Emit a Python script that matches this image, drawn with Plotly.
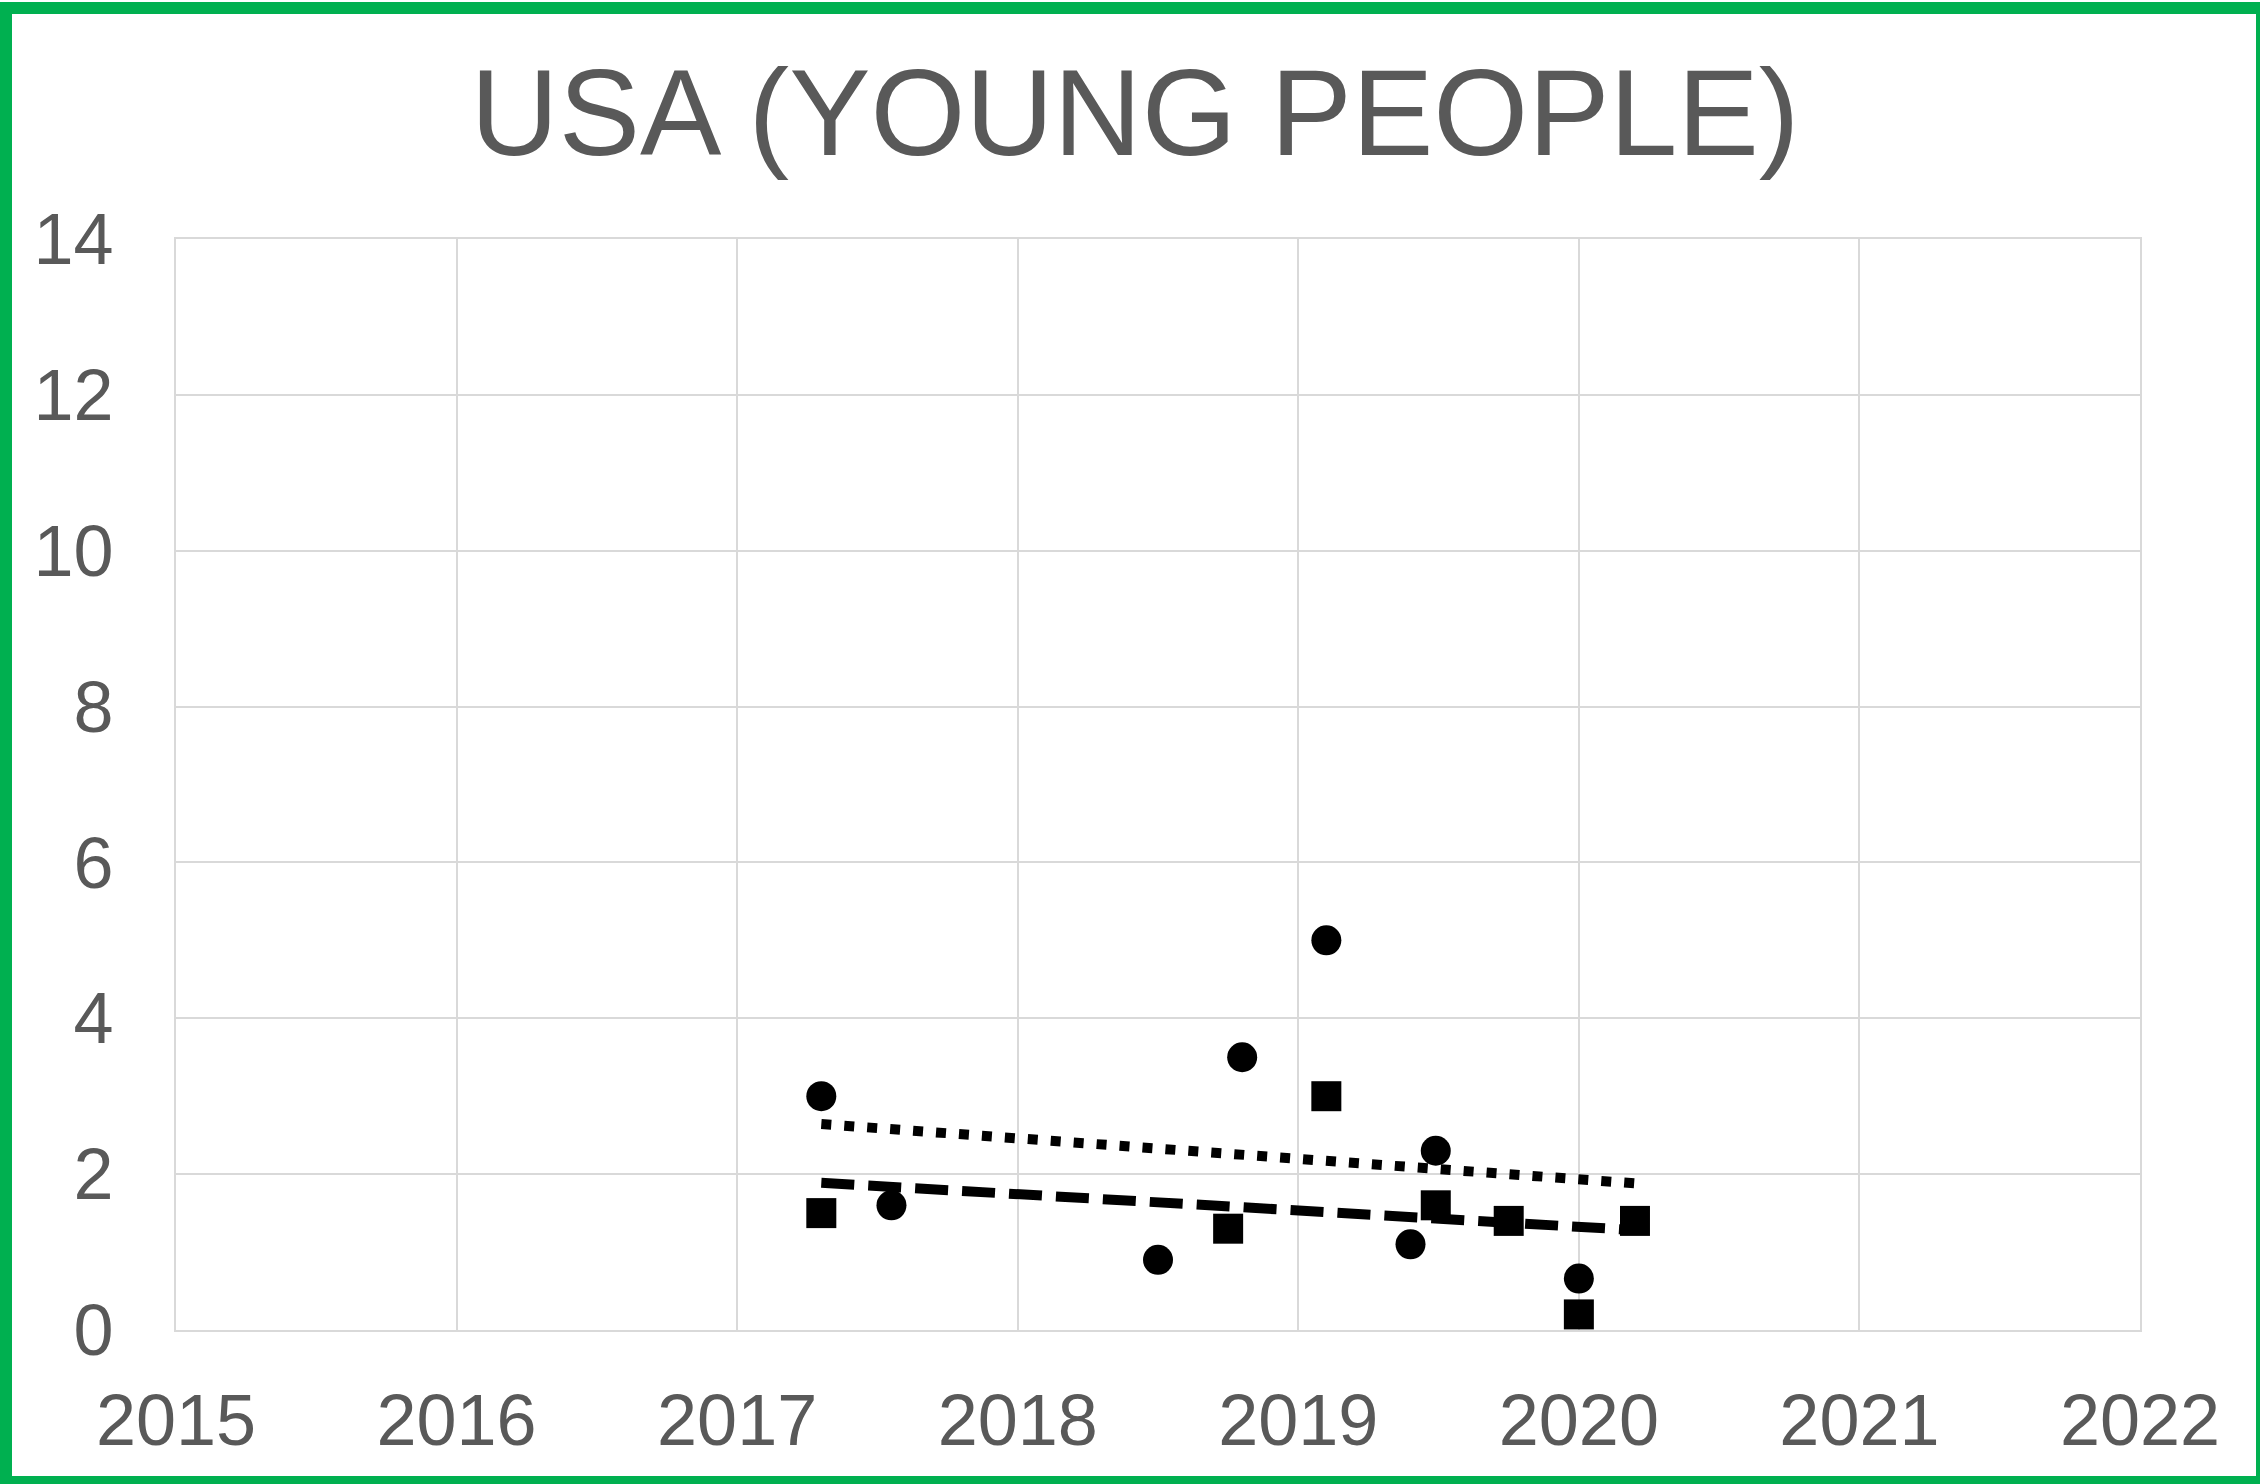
import numpy as np
import plotly.graph_objects as go

# circle series (dotted trend)
circle_x = [2017.30, 2017.55, 2018.50, 2018.80, 2019.10, 2019.49, 2019.40, 2020.00]
circle_y = [3.0, 1.6, 0.9, 3.5, 5.0, 2.3, 1.1, 0.66]

# square series (dashed trend)
square_x = [2017.30, 2018.75, 2019.10, 2019.49, 2019.75, 2020.00, 2020.20]
square_y = [1.5, 1.3, 3.0, 1.6, 1.4, 0.2, 1.4]

year_ticks = [2015, 2016, 2017, 2018, 2019, 2020, 2021, 2022]
value_ticks = [0, 2, 4, 6, 8, 10, 12, 14]

W, H = 2260, 1484
L, R, T, B = 176, 2140, 239, 1330
grey = "#595959"
grid = "#D9D9D9"

def trend(xs, ys, x0, x1):
    k, b = np.polyfit(xs, ys, 1)
    tx = np.array([x0, x1])
    return tx, k * tx + b

lo = min(circle_x + square_x)
hi = max(circle_x + square_x)
cx, cy = trend(circle_x, circle_y, lo, hi)
sx, sy = trend(square_x, square_y, lo, hi)

fig = go.Figure()
fig.add_trace(go.Scatter(x=cx, y=cy, mode="lines",
                         line=dict(color="black", width=10, dash="10px,13px")))
fig.add_trace(go.Scatter(x=sx, y=sy, mode="lines",
                         line=dict(color="black", width=10, dash="33px,14px")))
fig.add_trace(go.Scatter(x=circle_x, y=circle_y, mode="markers",
                         marker=dict(symbol="circle", size=30, color="black")))
fig.add_trace(go.Scatter(x=square_x, y=square_y, mode="markers",
                         marker=dict(symbol="square", size=30, color="black")))

def px_x(p):
    return (p - L) / (R - L)

def px_y(p):
    return (B - p) / (B - T)

fig.add_shape(type="rect", xref="paper", yref="paper",
              x0=px_x(6), x1=px_x(2262), y0=px_y(1482), y1=px_y(8),
              line=dict(color="#00B050", width=12), layer="above")

fig.update_layout(
    width=W, height=H,
    margin=dict(l=L, r=W - R, t=T, b=H - B, autoexpand=False),
    paper_bgcolor="white", plot_bgcolor="white",
    showlegend=False,
    font=dict(family="Liberation Sans, Arial, sans-serif", color=grey),
    title=dict(text="USA (YOUNG PEOPLE)", x=1135 / W, xref="container", xanchor="center",
               y=1 - 112 / H, yanchor="middle",
               font=dict(size=122, color=grey)),
)
fig.update_xaxes(range=[2015, 2022], tickvals=year_ticks, ticktext=[str(v) for v in year_ticks],
                 showgrid=True, gridcolor=grid, gridwidth=2, zeroline=False,
                 showline=True, linecolor=grid, linewidth=2, mirror=True,
                 ticks="", ticklabelstandoff=27, tickfont=dict(size=72, color=grey))
fig.update_yaxes(range=[0, 14], tickvals=value_ticks,
                 showgrid=True, gridcolor=grid, gridwidth=2, zeroline=False,
                 showline=True, linecolor=grid, linewidth=2, mirror=True,
                 ticks="", ticklabelstandoff=46, tickfont=dict(size=72, color=grey))

fig.write_html("out.html", config={"displayModeBar": False},
               post_script="document.body.style.margin='0';document.body.style.overflow='hidden';")
